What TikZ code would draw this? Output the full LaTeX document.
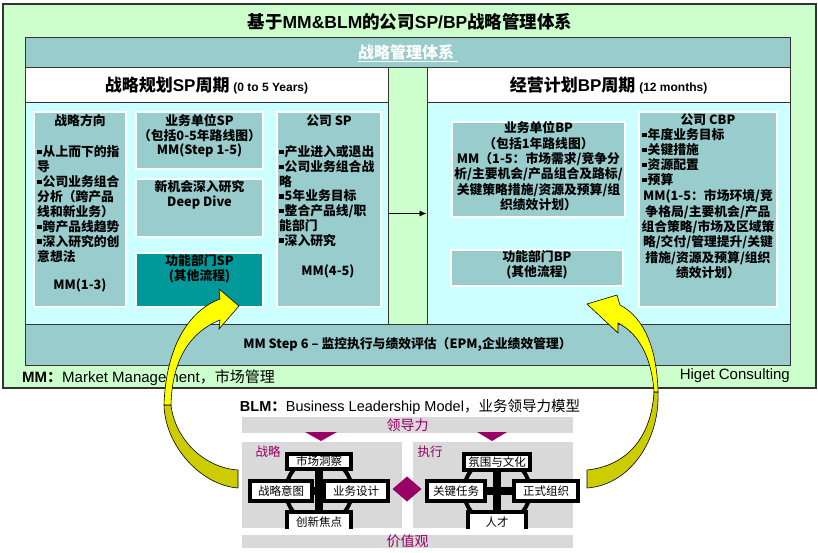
\documentclass[tikz,border=0pt]{standalone}
\usepackage{fontspec}
\setmainfont{Noto Sans CJK SC}
\newfontfamily\arialfont{Liberation Sans}
\usepackage{tikz}
\usetikzlibrary{arrows.meta, positioning, calc}

\definecolor{framegreen}{HTML}{CCFFCC}
\definecolor{barteal}{HTML}{99CCCC}
\definecolor{panelcyan}{HTML}{CCFFFF}
\definecolor{darkteal}{HTML}{009999}
\definecolor{blmgray}{HTML}{D9D9D9}
\definecolor{blmred}{HTML}{990066}
\definecolor{arrowyellow}{HTML}{FFFF00}
\definecolor{arrowolive}{HTML}{CCCC00}
\definecolor{edgegray}{HTML}{333333}

\newcommand{\bul}{\rule[2.4pt]{4.3pt}{4.3pt}\kern1.2pt}

\begin{document}
\begin{tikzpicture}[
        x=1pt, y=-1pt,
        font=\bfseries\fontsize{12.8}{14.9}\selectfont,
        outer_frame/.style = {rectangle, draw=edgegray, fill=framegreen, line width=1.5, inner sep=0},
        teal_bar/.style = {rectangle, draw=edgegray, fill=barteal, line width=1, inner sep=0},
        head_cell/.style = {rectangle, draw=edgegray, fill=white, line width=1, minimum width=363, minimum height=35, inner sep=0},
        plan_panel/.style = {rectangle, draw=edgegray, fill=panelcyan, line width=1, minimum width=363, minimum height=221},
        sp_cell/.style = {rectangle, draw=white, fill=barteal, line width=1.2, inner sep=0},
        cell_text/.style = {inner sep=0, align=center},
        bullet_text/.style = {inner sep=0, align=left, anchor=north west},
        blm_bar/.style = {rectangle, fill=blmgray, inner sep=0, minimum width=331, text=blmred, font=\mdseries\fontsize{14}{15}\selectfont},
        blm_panel/.style = {rectangle, fill=blmgray, minimum width=160, minimum height=86},
        blm_label/.style = {text=blmred, inner sep=0, font=\mdseries\fontsize{12.5}{14}\selectfont},
        blm_box/.style = {rectangle, draw=black, fill=white, line width=4, inner sep=0, font=\mdseries\fontsize{11.5}{13}\selectfont},
        blm_link/.style = {draw=black, line width=8},
        blm_ring/.style = {draw=black, line width=4},
        arrow_front/.style = {fill=arrowyellow, draw=black, line width=0.6},
        arrow_back/.style = {fill=arrowolive, draw=black, line width=0.6}
    ]
    \useasboundingbox (0,0) rectangle (818,553);

    % Outer frame and title
    \node [outer_frame, minimum width=813, minimum height=384] (frame) at (409.5,196) {};
    \node [inner sep=0, font=\bfseries\fontsize{17.5}{20}\selectfont] (title) at (410,22) {基于{\arialfont MM\&BLM}的公司{\arialfont SP/BP}战略管理体系};

    % Header bar
    \node [teal_bar, minimum width=765, minimum height=30] (system) at (407.5,53) {};
    \node [inner sep=0, text=white, font=\bfseries\fontsize{16}{18}\selectfont] (system_text) at (408,53) {\underline{战略管理体系~}};

    % SP / BP columns
    \node [head_cell] (sp_head) at (206.5,85.5) {\fontsize{17}{20}\selectfont 战略规划{\arialfont SP}周期\ {\arialfont\fontsize{12}{14}\selectfont (0 to 5 Years)}};
    \node [head_cell] (bp_head) at (608.5,85.5) {\fontsize{17}{20}\selectfont 经营计划{\arialfont BP}周期\ {\arialfont\fontsize{12}{14}\selectfont (12 months)}};
    \node [plan_panel] (sp_panel) at (206.5,213.5) {};
    \node [plan_panel] (bp_panel) at (608.5,213.5) {};
    \draw [-{Latex[length=7,width=6]}, line width=0.8] (sp_panel.east) -- (bp_panel.west);

    % Monitoring band
    \node [teal_bar, minimum width=765, minimum height=41] (step_six) at (407.5,344.5) {MM Step 6 – 监控执行与绩效评估（EPM,企业绩效管理）};

    % SP cells
    \node [sp_cell, minimum width=92, minimum height=195] (direction) at (80,209.5) {};
    \node [cell_text] (direction_title) at (80,121) {战略方向};
    \node [bullet_text] (direction_list) at (37,145.6) {\bul 从上而下的指\\导\\\bul 公司业务组合\\分析（跨产品\\线和新业务）\\\bul 跨产品线趋势\\\bul 深入研究的创\\意想法};
    \node [cell_text] (direction_mm) at (80,285) {MM(1-3)};

    \node [sp_cell, minimum width=127, minimum height=57] (unit_sp) at (199.5,140.5) {};
    \node [cell_text, anchor=north, font=\bfseries\fontsize{12.8}{14.5}\selectfont] (unit_sp_text) at (199.5,114.6) {业务单位SP\\（包括0-5年路线图）\\MM(Step 1-5)};
    \node [sp_cell, minimum width=127, minimum height=58] (deep_dive) at (199.5,208) {};
    \node [cell_text, anchor=north] (deep_dive_text) at (199.5,180.6) {新机会深入研究\\Deep Dive};
    \node [sp_cell, fill=darkteal, minimum width=127, minimum height=54] (func_sp) at (199.5,280) {};
    \node [cell_text, anchor=north] (func_sp_text) at (199.5,254.6) {功能部门SP\\(其他流程)};

    \node [sp_cell, minimum width=104, minimum height=195] (corp_sp) at (329,209.5) {};
    \node [cell_text] (corp_sp_title) at (329,121) {公司 SP};
    \node [bullet_text, font=\bfseries\fontsize{12.8}{14.7}\selectfont] (corp_sp_list) at (279,145.6) {\bul 产业进入或退出\\\bul 公司业务组合战\\略\\\bul 5年业务目标\\\bul 整合产品线/职\\能部门\\\bul 深入研究};
    \node [cell_text] (corp_sp_mm) at (328,271) {MM(4-5)};

    % BP cells
    \node [sp_cell, minimum width=173, minimum height=95] (unit_bp) at (538.5,169.5) {};
    \node [cell_text, anchor=north, font=\bfseries\fontsize{12.8}{15.3}\selectfont] (unit_bp_text) at (538.5,121.6) {业务单位BP\\（包括1年路线图）\\MM（1-5：市场需求/竞争分\\析/主要机会/产品组合及路标/\\关键策略措施/资源及预算/组\\织绩效计划）};
    \node [sp_cell, minimum width=172, minimum height=36] (func_bp) at (537,268) {};
    \node [cell_text, anchor=north] (func_bp_text) at (537,250.6) {功能部门BP\\(其他流程)};

    \node [sp_cell, minimum width=138, minimum height=195] (corp_bp) at (708,209.5) {};
    \node [cell_text] (corp_bp_title) at (708,120) {公司 CBP};
    \node [bullet_text, font=\bfseries\fontsize{12.8}{15}\selectfont] (corp_bp_list) at (642,128.6) {\bul 年度业务目标\\\bul 关键措施\\\bul 资源配置\\\bul 预算};
    \node [cell_text, anchor=north, font=\bfseries\fontsize{12.8}{15.3}\selectfont] (corp_bp_mm) at (708,189.6) {MM(1-5：市场环境/竞\\争格局/主要机会/产品\\组合策略/市场及区域策\\略/交付/管理提升/关键\\措施/资源及预算/组织\\绩效计划）};

    % Footer notes
    \node [anchor=west, inner sep=0, font=\mdseries\fontsize{15}{17}\selectfont] (mm_note) at (22,378) {{\arialfont\bfseries MM}{\bfseries ：}{\arialfont Market Management}，市场管理};
    \node [anchor=east, inner sep=0, font=\mdseries\fontsize{15}{17}\selectfont] (higet) at (790,376) {\arialfont Higet Consulting};

    % BLM model
    \node [inner sep=0, font=\mdseries\fontsize{14.5}{17}\selectfont] (blm_title) at (410,407) {{\arialfont\bfseries BLM}{\bfseries ：}{\arialfont Business Leadership Model}，业务领导力模型};
    \node [blm_bar, minimum height=16] (leadership) at (407.5,425) {领导力};
    \node [blm_panel] (strategy) at (322,485) {};
    \node [blm_panel] (execution) at (493,485) {};
    \node [blm_bar, minimum height=13] (values) at (407.5,541.5) {价值观};
    \fill [blmred] (305,432) -- (337,432) -- (321,441) -- cycle;
    \fill [blmred] (477,432) -- (507,432) -- (492,441) -- cycle;
    \fill [blmred] (392.5,489) -- (407,476.5) -- (421.5,489) -- (407,501.5) -- cycle;
    \node [blm_label] (strategy_label) at (268,452) {战略};
    \node [blm_label] (execution_label) at (430,452) {执行};

    \begin{scope}
        \clip (230,440) rectangle (600,528);
        \draw [blm_ring] (319,491) circle [radius=33pt];
        \draw [blm_ring] (497,491) circle [radius=33pt];
        % strategy side
        \node [blm_box, minimum width=64, minimum height=15] (insight) at (319,461.5) {市场洞察};
        \node [blm_box, minimum width=62, minimum height=20] (intent) at (281,491) {战略意图};
        \node [blm_box, minimum width=64, minimum height=20] (design) at (356,491) {业务设计};
        \node [blm_box, minimum width=64, minimum height=20] (focus) at (319,522) {创新焦点};
        \draw [blm_link] (insight) -- (focus);
        \draw [blm_link] (intent) -- (design);
        % execution side
        \node [blm_box, minimum width=66, minimum height=16] (climate) at (497,462) {氛围与文化};
        \node [blm_box, minimum width=58, minimum height=20] (tasks) at (456,491) {关键任务};
        \node [blm_box, minimum width=64, minimum height=20] (org) at (546,491) {正式组织};
        \node [blm_box, minimum width=58, minimum height=20] (talent) at (497,522) {人才};
        \draw [blm_link] (climate) -- (talent);
        \draw [blm_link] (tasks) -- (org);
    \end{scope}

    % Curved arrows back to the plans
    \filldraw [arrow_back] (164,405) .. controls (165,445) and (200,485) .. (238,488) -- (238,470) .. controls (205,468) and (175,440) .. (171,405) -- cycle;
    \filldraw [arrow_front] (239,306) -- (219,289) -- (220,299) .. controls (190,310) and (166,345) .. (164,405) -- (171,405) .. controls (172,360) and (190,332) .. (220,320) -- (219,329) -- cycle;
    \filldraw [arrow_back] (658,392) .. controls (660,440) and (630,485) .. (587,488) -- (587,470) .. controls (625,466) and (651,440) .. (654,392) -- cycle;
    \filldraw [arrow_front] (587,304) -- (617,295) -- (620,305) .. controls (645,318) and (657,350) .. (658,392) -- (654,392) .. controls (652,360) and (640,334) .. (618,323) -- (618,333) -- cycle;

\end{tikzpicture}
\end{document}
